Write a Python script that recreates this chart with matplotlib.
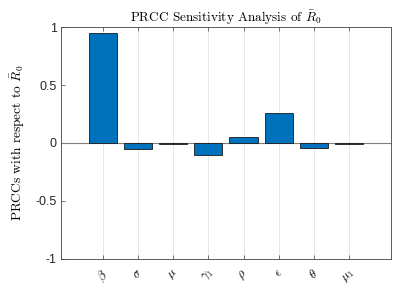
import matplotlib
matplotlib.use("Agg")
import matplotlib.pyplot as plt
import numpy as np

params = [r'$\beta$', r'$\sigma$', r'$\mu$', r'$\gamma_1$', r'$\rho$', r'$\epsilon$', r'$\theta$', r'$\mu_1$']
prcc = [0.946, -0.055, -0.012, -0.100, 0.055, 0.260, -0.040, -0.005]
yticks = [-1, -0.5, 0, 0.5, 1]
ytick_labels = ['-1', '-0.5', '0', '0.5', '1']

plt.rcParams['mathtext.fontset'] = 'cm'
plt.rcParams['font.family'] = ['Liberation Sans', 'DejaVu Sans']
plt.rcParams['axes.unicode_minus'] = False

fig = plt.figure(figsize=(4.09, 2.88), dpi=100)
ax = fig.add_axes([0.149, 0.101, 0.807, 0.805])

x = np.arange(1, len(params) + 1)
ax.bar(x, prcc, width=0.8, color='#0072BD', edgecolor='#1a1a1a', linewidth=0.6, zorder=3)
ax.axhline(0, color='#7f7f7f', linewidth=0.8, zorder=2)

ax.set_xlim(-0.2, 9.2)
ax.set_ylim(-1, 1)
ax.set_yticks(yticks)
ax.set_yticklabels(ytick_labels, fontsize=9)
ax.set_xticks(x)
ax.set_xticklabels(params, rotation=45, fontsize=9, ha='center')
ax.xaxis.grid(True, color='#e3e3e3', linewidth=0.6, zorder=0)
ax.set_axisbelow(True)
ax.tick_params(direction='in', length=3, width=0.5, color='#404040', top=True, right=False, pad=6)
ax.tick_params(axis='y', pad=3, labelcolor='#262626')
for s in ax.spines.values():
    s.set_color('#404040')
    s.set_linewidth(0.6)

ax.set_title(r'PRCC Sensitivity Analysis of $\bar{R}_0$', fontsize=9.5, pad=4)
ax.set_ylabel(r'PRCCs with respect to $\bar{R}_0$', fontsize=9.6, labelpad=6)
for t in [ax.title, ax.yaxis.label]:
    t.set_fontfamily(['cmr10'])

fig.savefig('out.png', dpi=100)
